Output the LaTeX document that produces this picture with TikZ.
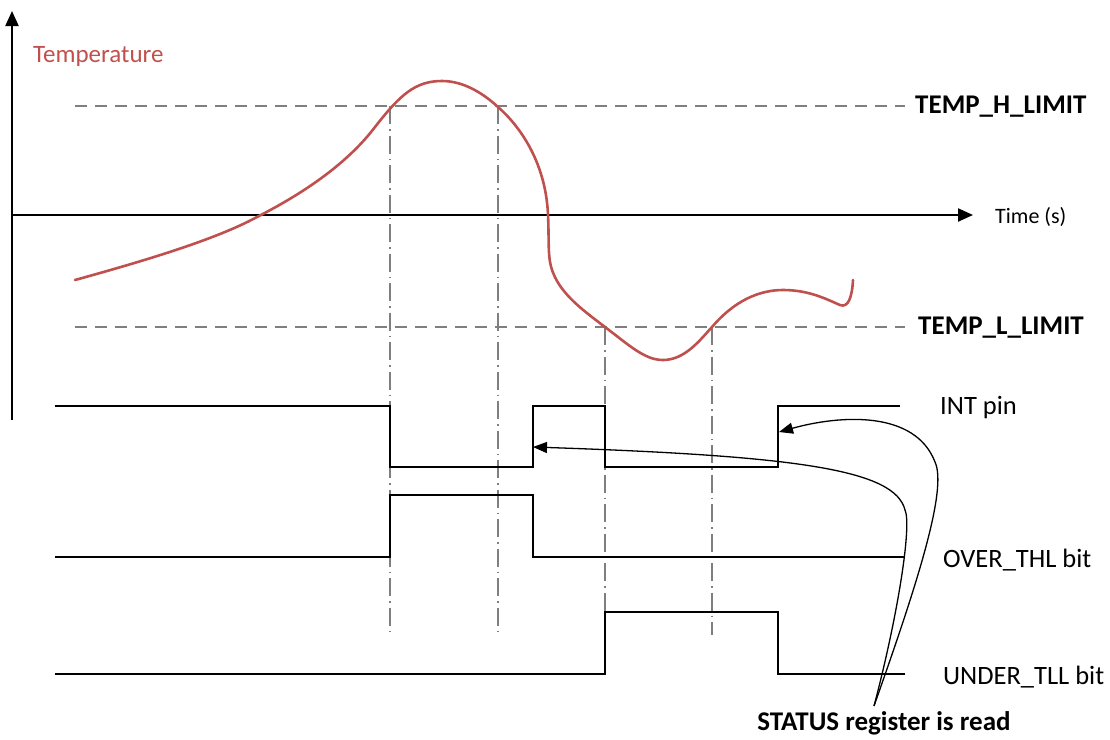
\documentclass[tikz,border=0pt]{standalone}
\usepackage{fontspec}
\setmainfont{Carlito}
\usetikzlibrary{arrows.meta}
\definecolor{tempred}{HTML}{C0504D}
\definecolor{limgray}{HTML}{7F7F7F}
\tikzset{
  axisline/.style={line width=2.2pt,-{Triangle[length=15pt,width=13pt]}},
  limitline/.style={limgray,line width=1.4pt,dash pattern=on 12pt off 8pt},
  guideline/.style={limgray,line width=1.2pt,dash pattern=on 18pt off 5pt on 1.5pt off 5pt},
  sigline/.style={line width=2.2pt,line join=miter},
  tempcurve/.style={tempred,line width=2.6pt,line cap=round},
  callout/.style={line width=1.3pt,-{Triangle[length=14pt,width=11pt]}},
  lbl/.style={inner sep=0pt,anchor=west,font=\fontsize{26.5}{30}\selectfont},
  boldlbl/.style={inner sep=0pt,font=\fontsize{27}{31}\selectfont\bfseries},
}
\begin{document}
\begin{tikzpicture}[x=1pt,y=-1pt]
\useasboundingbox (0,0) rectangle (1110,739);
% axes
\coordinate (yorig) at (12,420);
\coordinate (ytip) at (12,11);
\coordinate (xorig) at (12,215);
\coordinate (xtip) at (973,215);
\draw[axisline] (yorig) -- (ytip);
\draw[axisline] (xorig) -- (xtip);
% limits
\coordinate (h0) at (75,106); \coordinate (h1) at (905,106);
\coordinate (l0) at (75,327); \coordinate (l1) at (905,327);
\draw[limitline] (h0) -- (h1);
\draw[limitline] (l0) -- (l1);
% guide lines
\coordinate (g1t) at (390,106); \coordinate (g1b) at (390,635);
\coordinate (g2t) at (498,106); \coordinate (g2b) at (498,635);
\coordinate (g3t) at (605,327); \coordinate (g3b) at (605,635);
\coordinate (g4t) at (712,327); \coordinate (g4b) at (712,635);
\draw[guideline] (g1t) -- (g1b);
\draw[guideline] (g2t) -- (g2b);
\draw[guideline] (g3t) -- (g3b);
\draw[guideline] (g4t) -- (g4b);
% temperature curve
\draw[tempcurve] (75,280)
  .. controls (140,262) and (215,240) .. (257,217)
  .. controls (310,190) and (350,160) .. (375,127)
  .. controls (400,95) and (415,81) .. (442,81)
  .. controls (465,81) and (485,95) .. (498,107)
  .. controls (522,128) and (546,165) .. (548,215)
  .. controls (549,235) and (548,250) .. (550,262)
  .. controls (555,290) and (580,308) .. (605,327)
  .. controls (630,346) and (645,360) .. (663,360)
  .. controls (685,360) and (700,340) .. (712,327)
  .. controls (735,300) and (760,290) .. (783,290)
  .. controls (810,290) and (828,300) .. (840,305)
  .. controls (848,308) and (852,298) .. (853,280);
% signals
\draw[sigline] (55,406) -- (390,406) -- (390,467) -- (533,467) -- (533,406)
  -- (605,406) -- (605,467) -- (778,467) -- (778,406) -- (900,406);
\draw[sigline] (55,557) -- (390,557) -- (390,495) -- (533,495) -- (533,557) -- (905,557);
\draw[sigline] (55,674) -- (605,674) -- (605,612) -- (778,612) -- (778,674) -- (905,674);
% labels
\node[lbl,tempred,font=\fontsize{25}{29}\selectfont] (templbl) at (33,56) {Temperature};
\node[boldlbl,anchor=west] (hlbl) at (915,107) {TEMP\_H\_LIMIT};
\node[boldlbl,anchor=west] (llbl) at (918,328) {TEMP\_L\_LIMIT};
\node[lbl,font=\fontsize{22}{26}\selectfont] (timelbl) at (995,217) {Time (s)};
\node[lbl] (intlbl) at (940,408) {INT pin};
\node[lbl] (overlbl) at (943,560) {OVER\_THL bit};
\node[lbl] (underlbl) at (943,677) {UNDER\_TLL bit};
\node[boldlbl] (status) at (884,723) {STATUS register is read};
% callouts
\coordinate (src) at (874,706);
\coordinate (tipA) at (533,447);
\coordinate (tipB) at (779,432);
\draw[callout] (src) .. controls (898,615) and (912,525) .. (905,510)
  .. controls (895,470) and (800,456) .. (tipA);
\draw[callout] (src) .. controls (915,590) and (948,490) .. (935,462)
  .. controls (915,410) and (840,415) .. (tipB);
\end{tikzpicture}
\end{document}
